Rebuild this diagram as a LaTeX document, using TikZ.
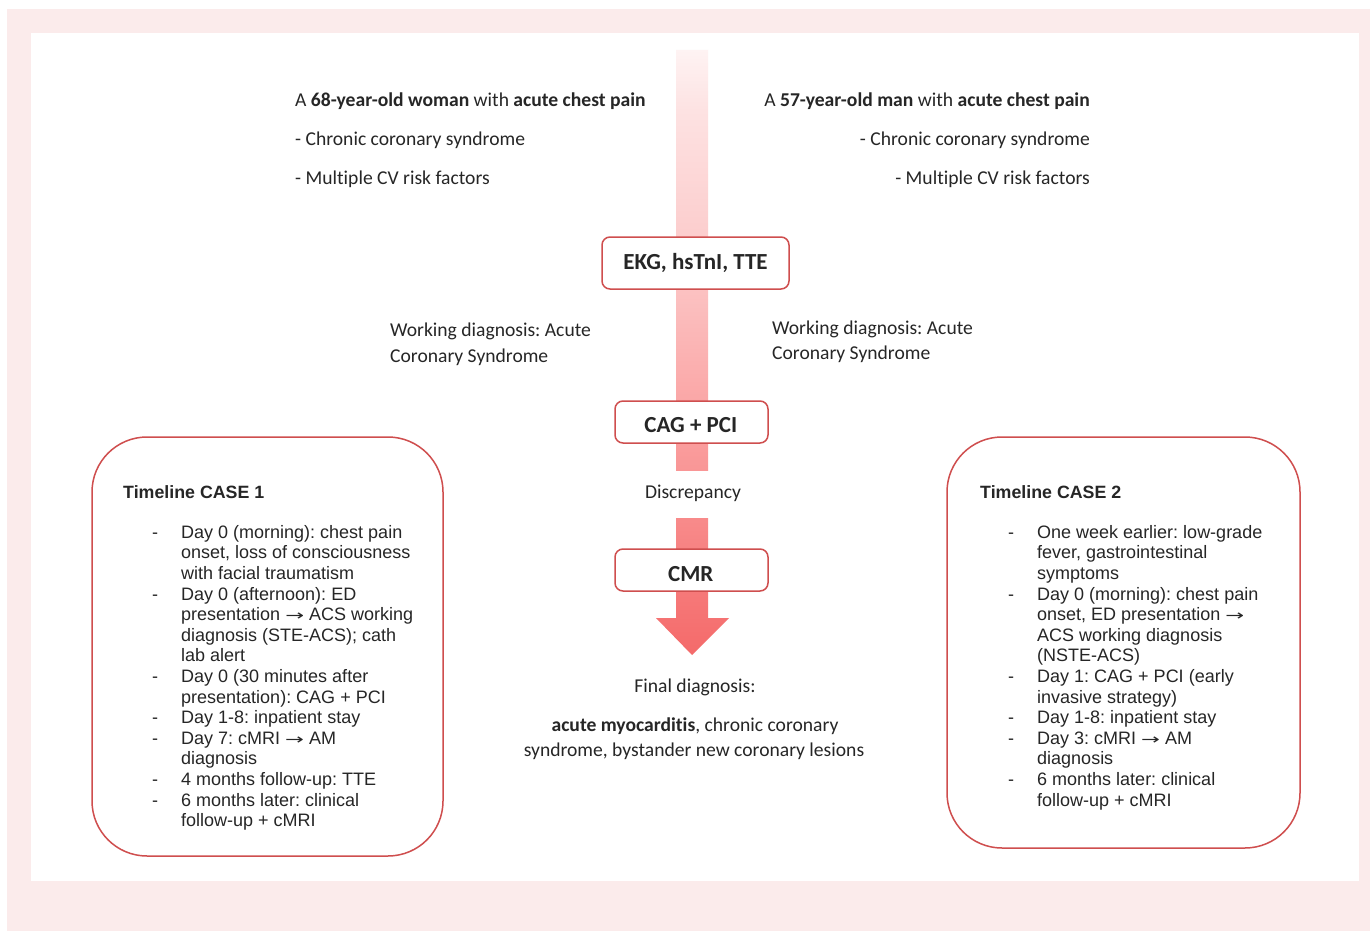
\documentclass[tikz,border=0pt]{standalone}
\usepackage{fontspec}
\setmainfont{Carlito}[Ligatures=NoCommon]
\newfontfamily\arialf{Liberation Sans}
\newfontfamily\dejavuf{DejaVu Sans}
\newcommand\rarr{{\dejavuf\fontsize{18}{18}\selectfont\scalebox{1.25}[0.8]{→}}}
\frenchspacing
\definecolor{framepink}{HTML}{FBEBEB}
\definecolor{boxred}{HTML}{CF4E4E}
\definecolor{txt}{HTML}{262626}
\definecolor{shA}{HTML}{F46A6A}
\definecolor{shB}{HTML}{F67878}
\definecolor{shC}{HTML}{FA9E9E}
\definecolor{shD}{HTML}{FCCACA}
\definecolor{shE}{HTML}{FDE2E2}
\definecolor{shF}{HTML}{FEF3F3}
\pgfdeclareverticalshading{arrowshade}{100bp}{color(0bp)=(shA); color(25bp)=(shA); color(30bp)=(shB); color(43bp)=(shC); color(58bp)=(shD); color(70bp)=(shE); color(75bp)=(shF); color(100bp)=(shF)}
\tikzset{
  calt/.style={font=\fontsize{19.6}{26}\selectfont, text=txt, inner sep=0pt},
  boldt/.style={font=\fontsize{23}{28}\selectfont\bfseries, text=txt, inner sep=0pt, anchor=base},
  arit/.style={font=\arialf\fontsize{18}{20.6}\selectfont, text=txt, inner sep=0pt, anchor=base west},
  arihead/.style={arit, font=\arialf\bfseries\fontsize{17.8}{20.6}\selectfont},
  stepbox/.style={draw=boxred, line width=1.5pt, fill=white, rounded corners=8pt, inner sep=0pt},
  tlbox/.style={draw=boxred, line width=1.5pt, rounded corners=55pt, inner sep=0pt}
}
\begin{document}
\begin{tikzpicture}[x=1pt,y=-1pt]
\useasboundingbox (0,0) rectangle (1370,931);
\fill[framepink] (7,9) rectangle (1370,931);
\fill[white] (31,33) rectangle (1359,881);

% gradient arrow
\shade[shading=arrowshade] (676,50) -- (708,50) -- (708,618) -- (729,618) -- (692,655) -- (656,618) -- (676,618) -- cycle;
\fill[white] (670,471) rectangle (714,518);

% step boxes
\node[stepbox, minimum width=187pt, minimum height=52pt] (ekgbox) at (695.5,263) {};
\node[stepbox, minimum width=153pt, minimum height=42pt] (cagbox) at (691.5,422) {};
\node[stepbox, minimum width=153pt, minimum height=42pt] (cmrbox) at (691.5,570) {};
\node[boldt] (ekg) at (695.5,269) {EKG, hsTnI, TTE};
\node[boldt] (cag) at (690.8,432.7) {CAG + PCI};
\node[boldt] (cmr) at (690.8,581.7) {CMR};

% top texts
\node[calt, anchor=base west] (l1) at (295,106.5) {A \textbf{68-year-old woman} with \textbf{acute chest pain}};
\node[calt, anchor=base west] (l2) at (295,145.5) {- Chronic coronary syndrome};
\node[calt, anchor=base west] (l3) at (295,184) {- Multiple CV risk factors};
\node[calt, anchor=base east] (r1) at (1090,107) {A \textbf{57-year-old man} with \textbf{acute chest pain}};
\node[calt, anchor=base east] (r2) at (1090,145.5) {- Chronic coronary syndrome};
\node[calt, anchor=base east] (r3) at (1090,184) {- Multiple CV risk factors};

\node[calt, anchor=base west] (wl1) at (390,336) {Working diagnosis: Acute};
\node[calt, anchor=base west] (wl2) at (390,362) {Coronary Syndrome};
\node[calt, anchor=base west] (wr1) at (772,334) {Working diagnosis: Acute};
\node[calt, anchor=base west] (wr2) at (772,359) {Coronary Syndrome};

\node[calt, anchor=base] (disc) at (693,498) {Discrepancy};
\node[calt, anchor=base] (fd1) at (695,692) {Final diagnosis:};
\node[calt, anchor=base] (fd2) at (695,731) {\textbf{acute myocarditis}, chronic coronary};
\node[calt, anchor=base] (fd3) at (694,756) {syndrome, bystander new coronary lesions};

% timeline boxes
\node[tlbox, minimum width=351pt, minimum height=419pt] (tl1) at (267.5,646.5) {};
\node[tlbox, minimum width=353pt, minimum height=411pt] (tl2) at (1123.5,642.5) {};
\node[arihead] (h1) at (123,498.3) {Timeline CASE 1};
\node[arihead] (h2) at (980,498.3) {Timeline CASE 2};

\foreach \d/\t [count=\i from 0] in {
1/{Day 0 (morning): chest pain},
0/{onset, loss of consciousness},
0/{with facial traumatism},
1/{Day 0 (afternoon): ED},
0/{presentation \rarr{} ACS working},
0/{diagnosis (STE-ACS); cath},
0/{lab alert},
1/{Day 0 (30 minutes after},
0/{presentation): CAG + PCI},
1/{Day 1-8: inpatient stay},
1/{Day 7: cMRI \rarr{} AM},
0/{diagnosis},
1/{4 months follow-up: TTE},
1/{6 months later: clinical},
0/{follow-up + cMRI}}
{
  \node[arit] (la\i) at (181,{538.3+20.6*\i}) {\t};
  \ifnum\d=1 \node[arit] (ld\i) at (152,{538.3+20.6*\i}) {-};\fi
}

\foreach \d/\t [count=\i from 0] in {
1/{One week earlier: low-grade},
0/{fever, gastrointestinal},
0/{symptoms},
1/{Day 0 (morning): chest pain},
0/{onset, ED presentation \rarr},
0/{ACS working diagnosis},
0/{(NSTE-ACS)},
1/{Day 1: CAG + PCI (early},
0/{invasive strategy)},
1/{Day 1-8: inpatient stay},
1/{Day 3: cMRI \rarr{} AM},
0/{diagnosis},
1/{6 months later: clinical},
0/{follow-up + cMRI}}
{
  \node[arit] (ra\i) at (1037,{538.3+20.6*\i}) {\t};
  \ifnum\d=1 \node[arit] (rd\i) at (1008,{538.3+20.6*\i}) {-};\fi
}
\end{tikzpicture}
\end{document}
